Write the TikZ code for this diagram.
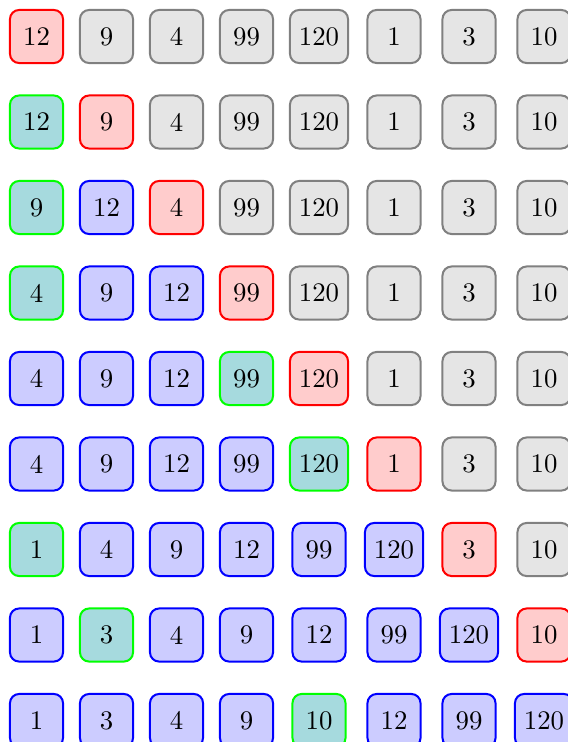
\documentclass[tikz,border=0pt]{standalone}
\usepackage{fontspec}
\definecolor{tealfill}{RGB}{166,218,222}
\begin{document}
\begin{tikzpicture}[x=0.3731pt,y=-0.3731pt,
  cell/.style={rectangle,rounded corners=3.4pt,line width=0.75pt,minimum size=19.8pt,inner sep=3.33pt},
  redbox/.style={cell,draw=red,fill=red!20},
  graybox/.style={cell,draw=gray,fill=gray!20},
  bluebox/.style={cell,draw=blue,fill=blue!20},
  greenbox/.style={cell,draw=green,fill=tealfill}]
\useasboundingbox (0,0) rectangle (568,742);
\foreach \row [count=\r] in {
  {12/redbox/36.5,9/graybox/106.5,4/graybox/176.5,99/graybox/246.5,120/graybox/319,1/graybox/394,3/graybox/469,10/graybox/544},
  {12/greenbox/36.5,9/redbox/106.5,4/graybox/176.5,99/graybox/246.5,120/graybox/319,1/graybox/394,3/graybox/469,10/graybox/544},
  {9/greenbox/36.5,12/bluebox/106.5,4/redbox/176.5,99/graybox/246.5,120/graybox/319,1/graybox/394,3/graybox/469,10/graybox/544},
  {4/greenbox/36.5,9/bluebox/106.5,12/bluebox/176.5,99/redbox/246.5,120/graybox/319,1/graybox/394,3/graybox/469,10/graybox/544},
  {4/bluebox/36.5,9/bluebox/106.5,12/bluebox/176.5,99/greenbox/246.5,120/redbox/319,1/graybox/394,3/graybox/469,10/graybox/544},
  {4/bluebox/36.5,9/bluebox/106.5,12/bluebox/176.5,99/bluebox/246.5,120/greenbox/319,1/redbox/394,3/graybox/469,10/graybox/544},
  {1/greenbox/36.5,4/bluebox/106.5,9/bluebox/176.5,12/bluebox/246.5,99/bluebox/319,120/bluebox/394,3/redbox/469,10/graybox/544},
  {1/bluebox/36.5,3/greenbox/106.5,4/bluebox/176.5,9/bluebox/246.5,12/bluebox/319,99/bluebox/394,120/bluebox/469,10/redbox/544},
  {1/bluebox/36.5,3/bluebox/106.5,4/bluebox/176.5,9/bluebox/246.5,10/greenbox/319,12/bluebox/394,99/bluebox/469,120/bluebox/544}}
{
  \foreach \v/\s/\x [count=\c] in \row {
    \node[\s] (n\r-\c) at (\x,{36.5+(\r-1)*85.5}) {\v};
  }
}
\end{tikzpicture}
\end{document}
